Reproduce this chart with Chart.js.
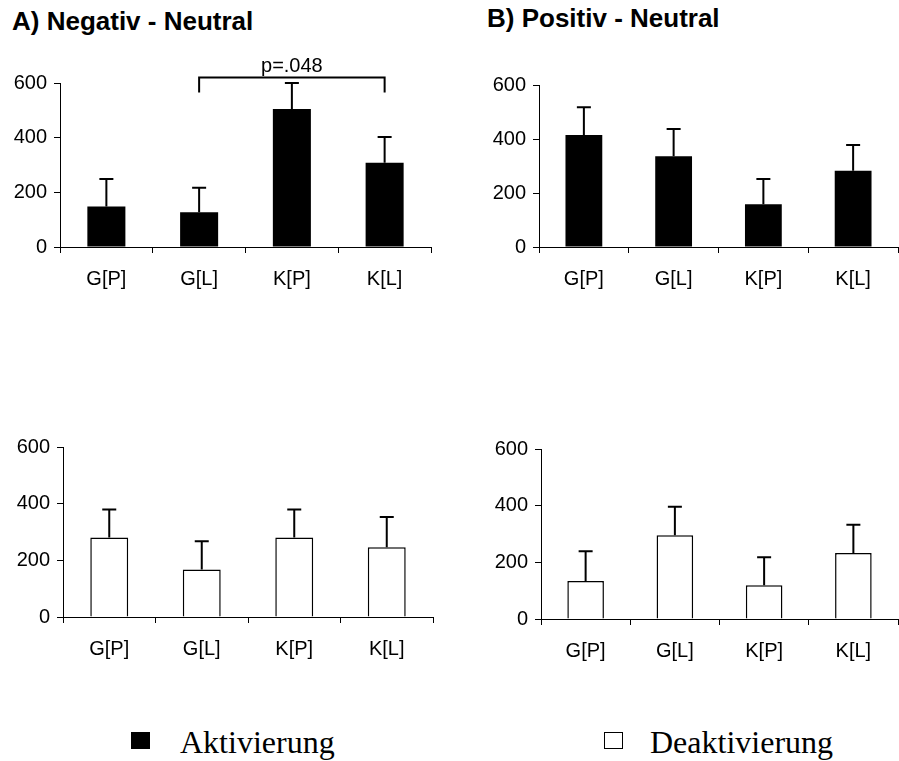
<!DOCTYPE html>
<html>
<head>
<meta charset="utf-8">
<script src="https://cdn.jsdelivr.net/npm/chart.js@4.4.1/dist/chart.umd.min.js"></script>
<style>
    body { margin: 0; background: #fff; }
    #page { position: relative; width: 899px; height: 761px; overflow: hidden; }
    .panel { position: absolute; }
    .title { position: absolute; font: bold 26px "Liberation Sans", Arial, sans-serif; line-height: 30px; color: #000; white-space: nowrap; }
    .legend { position: absolute; font: 32px "Liberation Serif", "Times New Roman", serif; line-height: 32px; color: #000; white-space: nowrap; }
    .swatch { position: absolute; box-sizing: border-box; width: 19px; height: 17px; border: 1.5px solid #000; }
</style>
</head>
<body>
<div id="page">
    <div class="title" style="left:12px; top:6px;">A) Negativ - Neutral</div>
    <div class="title" style="left:487px; top:3px;">B) Positiv - Neutral</div>

    <div class="panel" style="left:0; top:40px;"><canvas id="negAct" width="450" height="280"></canvas></div>
    <div class="panel" style="left:450px; top:40px;"><canvas id="posAct" width="449" height="280"></canvas></div>
    <div class="panel" style="left:0; top:410px;"><canvas id="negDeact" width="450" height="280"></canvas></div>
    <div class="panel" style="left:450px; top:410px;"><canvas id="posDeact" width="449" height="280"></canvas></div>

    <div class="swatch" style="left:131px; top:732px; background:#000;"></div>
    <div class="legend" style="left:180px; top:726px;">Aktivierung</div>
    <div class="swatch" style="left:604px; top:732px; background:#fff;"></div>
    <div class="legend" style="left:650px; top:726px;">Deaktivierung</div>
</div>

<script>
// Categories and tick values
const categories = ['G[P]', 'G[L]', 'K[P]', 'K[L]'];
const yTicks = [0, 200, 400, 600];

// A) Negativ - Neutral
const negActivation = [148, 127, 505, 308];
const negActivationErr = [101, 90, 95, 94];
const negDeactivation = [281, 168, 281, 246];
const negDeactivationErr = [98, 99, 98, 107];

// B) Positiv - Neutral
const posActivation = [415, 336, 158, 282];
const posActivationErr = [103, 101, 94, 96];
const posDeactivation = [134, 296, 119, 233];
const posDeactivationErr = [105, 100, 99, 100];

// significance bracket in panel A (from G[L] to K[L])
const sigFrom = 'G[L]';
const sigTo = 'K[L]';
const sigLevel = 620;
const sigDrop = 565;
const sigLabel = 'p=.048';

const tickFont = { family: '"Liberation Sans", Arial, sans-serif', size: 20 };

// draws the upper whisker of every bar from the dataset's err array
const errorBarPlugin = {
    id: 'errorBars',
    afterDatasetsDraw(chart) {
        const ctx = chart.ctx;
        const yScale = chart.scales.y;
        chart.data.datasets.forEach((ds, i) => {
            const meta = chart.getDatasetMeta(i);
            meta.data.forEach((bar, j) => {
                const top = yScale.getPixelForValue(ds.data[j] + ds.err[j]);
                ctx.save();
                ctx.strokeStyle = '#000';
                ctx.lineWidth = 2;
                ctx.beginPath();
                ctx.moveTo(bar.x, bar.y);
                ctx.lineTo(bar.x, top);
                ctx.moveTo(bar.x - 7, top);
                ctx.lineTo(bar.x + 7, top);
                ctx.stroke();
                ctx.restore();
            });
        });
    }
};

const bracketPlugin = {
    id: 'sigBracket',
    afterDatasetsDraw(chart, args, opts) {
        if (!opts.show) return;
        const ctx = chart.ctx;
        const x = chart.scales.x, y = chart.scales.y;
        const x1 = x.getPixelForValue(categories.indexOf(sigFrom));
        const x2 = x.getPixelForValue(categories.indexOf(sigTo));
        const yTop = y.getPixelForValue(sigLevel);
        const yBot = y.getPixelForValue(sigDrop);
        ctx.save();
        ctx.strokeStyle = '#000';
        ctx.lineWidth = 2;
        ctx.beginPath();
        ctx.moveTo(x1, yBot);
        ctx.lineTo(x1, yTop);
        ctx.lineTo(x2, yTop);
        ctx.lineTo(x2, yBot);
        ctx.stroke();
        ctx.fillStyle = '#000';
        ctx.font = '20px "Liberation Sans", Arial, sans-serif';
        ctx.textAlign = 'center';
        ctx.textBaseline = 'bottom';
        ctx.fillText(sigLabel, (x1 + x2) / 2, yTop - 1);
        ctx.restore();
    }
};

// box = chart area in canvas coordinates
function makePanel(id, values, errors, filled, box, showBracket) {
    const canvas = document.getElementById(id);
    const W = canvas.width, H = canvas.height;
    return new Chart(canvas, {
        type: 'bar',
        data: {
            labels: categories,
            datasets: [{
                data: values,
                err: errors,
                backgroundColor: filled ? '#000' : '#fff',
                borderColor: '#000',
                borderWidth: filled ? 0 : 1.5,
                categoryPercentage: 1,
                barPercentage: 0.41
            }]
        },
        options: {
            responsive: false,
            animation: false,
            events: [],
            layout: { padding: { top: box.top, right: W - box.right, left: 0, bottom: 0 } },
            plugins: {
                legend: { display: false },
                tooltip: { enabled: false },
                sigBracket: { show: showBracket }
            },
            scales: {
                x: {
                    offset: true,
                    grid: { offset: true, drawOnChartArea: false, drawTicks: true, tickLength: 6, color: '#000', lineWidth: 1 },
                    border: { display: true, color: '#000', width: 1 },
                    ticks: { color: '#000', font: tickFont, padding: 14, maxRotation: 0 },
                    afterFit(scale) { scale.height = H - box.bottom; }
                },
                y: {
                    min: 0,
                    max: 600,
                    afterBuildTicks(scale) { scale.ticks = yTicks.map(v => ({ value: v })); },
                    grid: { drawOnChartArea: false, drawTicks: true, tickLength: 6, color: '#000', lineWidth: 1 },
                    border: { display: true, color: '#000', width: 1 },
                    ticks: { color: '#000', font: tickFont, padding: 7 },
                    afterFit(scale) { scale.width = box.left; }
                }
            }
        },
        plugins: [errorBarPlugin, bracketPlugin]
    });
}

// chart areas (canvas coords): left, top, right, bottom
makePanel('negAct', negActivation, negActivationErr, true, { left: 60, top: 43, right: 431, bottom: 207 }, true);
makePanel('posAct', posActivation, posActivationErr, true, { left: 89, top: 45, right: 448, bottom: 207 }, false);
makePanel('negDeact', negDeactivation, negDeactivationErr, false, { left: 63, top: 37, right: 433, bottom: 207 }, false);
makePanel('posDeact', posDeactivation, posDeactivationErr, false, { left: 91, top: 39, right: 448, bottom: 209 }, false);
</script>
</body>
</html>
